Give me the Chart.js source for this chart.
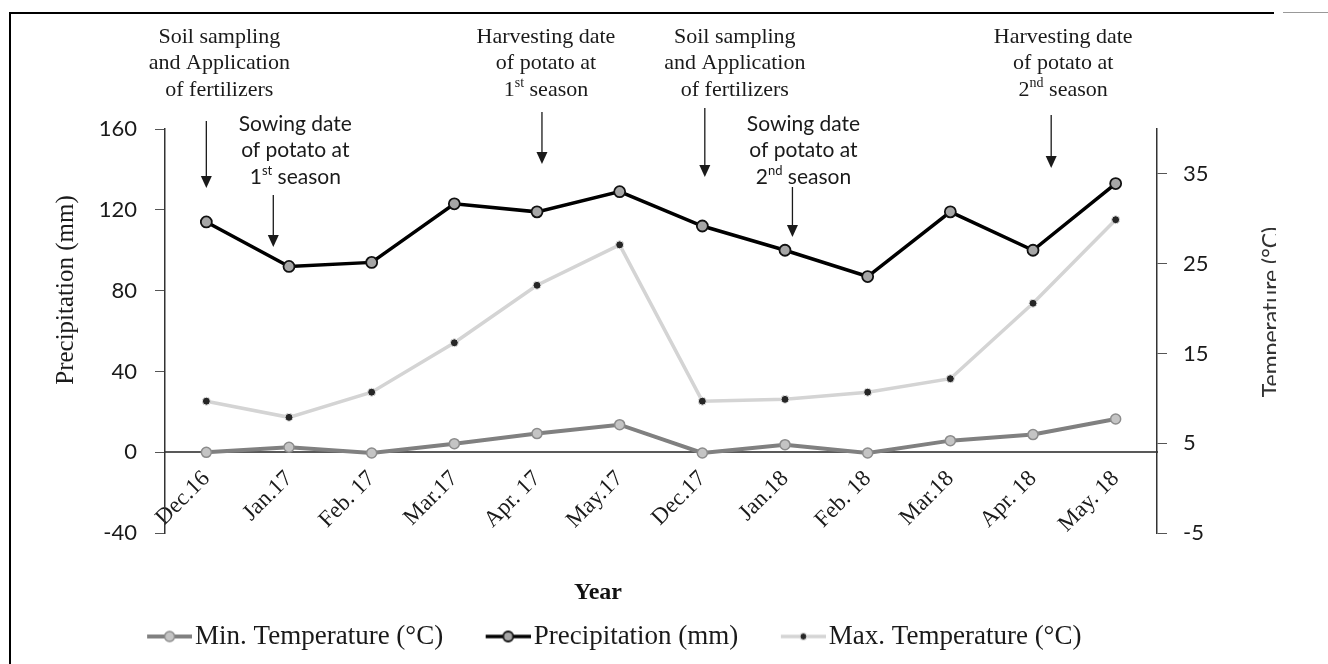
<!DOCTYPE html>
<html>
<head>
<meta charset="utf-8">
<script src="https://cdn.jsdelivr.net/npm/chart.js@4.4.0/dist/chart.umd.min.js"></script>
<style>
  body { margin: 0; background: #fff; }
  #wrap { position: relative; width: 1328px; height: 664px; overflow: hidden; }
  #chart { position: absolute; left: 0; top: 0; }
  #frame { position: absolute; left: 9px; top: 12px; width: 1263px; height: 660px; border-top: 2px solid #000; border-left: 2px solid #000; }
  #nub { position: absolute; left: 1283px; top: 12px; width: 45px; border-top: 1px solid #999; }
</style>
</head>
<body>
<div id="wrap">
  <canvas id="chart" width="1328" height="664"></canvas>
  <div id="frame"></div>
  <div id="nub"></div>
</div>
<script>
var months = ['Dec.16', 'Jan.17', 'Feb. 17', 'Mar.17', 'Apr. 17', 'May.17', 'Dec.17', 'Jan.18', 'Feb. 18', 'Mar.18', 'Apr. 18', 'May. 18'];
var minTemp = [0, 2.5, -0.3, 4.3, 9.3, 13.7, -0.3, 3.8, -0.3, 5.8, 8.8, 16.5];
var precipitation = [114, 92, 94, 123, 119, 129, 112, 100, 87, 119, 100, 133];
var maxTemp = [9.7, 7.9, 10.7, 16.2, 22.6, 27.1, 9.7, 9.9, 10.7, 12.2, 20.6, 29.9];
var leftTicks = [-40, 0, 40, 80, 120, 160];
var rightTicks = [-5, 5, 15, 25, 35];

var serif = "'Liberation Serif', 'Times New Roman', serif";
var sans = "Lato, 'Open Sans', sans-serif";

// text notes above the chart, arrow x given as a category position
var notes = [
  {at: 0.0, dx: 13, font: serif, size: 22, y: 37, from: 121, to: 188, lines: ['Soil sampling', 'and Application', 'of fertilizers']},
  {at: 0.81, dx: 22, font: sans, size: 21, y: 124, from: 195, to: 247, lines: ['Sowing date', 'of potato at', '1^st^ season']},
  {at: 4.06, dx: 4, font: serif, size: 22, y: 37, from: 112, to: 164, lines: ['Harvesting date', 'of potato at', '1^st^ season']},
  {at: 6.03, dx: 30, font: serif, size: 22, y: 37, from: 108, to: 177, lines: ['Soil sampling', 'and Application', 'of fertilizers']},
  {at: 7.09, dx: 11, font: sans, size: 21, y: 124, from: 187, to: 237, lines: ['Sowing date', 'of potato at', '2^nd^ season']},
  {at: 10.22, dx: 12, font: serif, size: 22, y: 37, from: 115, to: 168, lines: ['Harvesting date', 'of potato at', '2^nd^ season']}
];

function legendIcon(line, lw, fill, stroke, r, bw) {
  var c = document.createElement('canvas');
  c.width = 88; c.height = 16;
  var g = c.getContext('2d');
  g.strokeStyle = line; g.lineWidth = lw;
  g.beginPath(); g.moveTo(43, 8); g.lineTo(88, 8); g.stroke();
  g.beginPath(); g.arc(65.5, 8, r, 0, Math.PI * 2);
  g.fillStyle = fill; g.fill();
  g.lineWidth = bw; g.strokeStyle = stroke; g.stroke();
  return c;
}
var icons = [
  legendIcon('#808080', 4, '#c4c4c4', '#8c8c8c', 5, 1.5),
  legendIcon('#000000', 3.5, '#a6a6a6', '#111111', 5, 1.8),
  legendIcon('#d4d4d4', 3.5, '#262626', '#e8e8e8', 3.5, 1)
];

function drawLine(ctx, text, cx, y, font, size) {
  var parts = text.split('^');
  var w = 0;
  parts.forEach(function(p, i) {
    ctx.font = (i % 2 ? Math.round(size * 0.62) : size) + 'px ' + font;
    w += ctx.measureText(p).width;
  });
  var x = cx - w / 2;
  parts.forEach(function(p, i) {
    var sup = i % 2 === 1;
    ctx.font = (sup ? Math.round(size * 0.62) : size) + 'px ' + font;
    ctx.fillText(p, x, sup ? y - size * 0.3 : y);
    x += ctx.measureText(p).width;
  });
}

var overlay = {
  id: 'overlay',
  afterDraw: function(chart) {
    var ctx = chart.ctx, xs = chart.scales.x;
    ctx.save();
    ctx.fillStyle = '#1a1a1a';
    ctx.strokeStyle = '#1a1a1a';
    ctx.textAlign = 'left';
    ctx.textBaseline = 'middle';
    notes.forEach(function(n) {
      var ax = xs.getPixelForValue(n.at);
      n.lines.forEach(function(t, i) {
        drawLine(ctx, t, ax + n.dx, n.y + i * 26.5, n.font, n.size);
      });
      ctx.lineWidth = 1.3;
      ctx.beginPath(); ctx.moveTo(ax, n.from); ctx.lineTo(ax, n.to - 11); ctx.stroke();
      ctx.beginPath(); ctx.moveTo(ax - 5.5, n.to - 12); ctx.lineTo(ax + 5.5, n.to - 12); ctx.lineTo(ax, n.to); ctx.closePath(); ctx.fill();
    });

    // axis titles, both read bottom to top
    ctx.textAlign = 'center';
    ctx.save();
    ctx.translate(66, 290);
    ctx.rotate(-Math.PI / 2);
    ctx.font = '25px ' + serif;
    ctx.fillText('Precipitation (mm)', 0, 0);
    ctx.restore();

    ctx.save();
    ctx.beginPath(); ctx.rect(1240, 150, 36, 300); ctx.clip();
    ctx.translate(1260, 312);
    ctx.rotate(-Math.PI / 2);
    ctx.textBaseline = 'top';
    ctx.fillStyle = '#333';
    ctx.font = '23px ' + sans;
    ctx.fillText('Temperature (°C)', 0, 0);
    ctx.restore();
    ctx.restore();
  }
};

new Chart(document.getElementById('chart'), {
  type: 'line',
  data: {
    labels: months,
    datasets: [
      {label: 'Min. Temperature (°C)', data: minTemp, yAxisID: 'y', borderColor: '#808080', borderWidth: 4,
       pointRadius: 5, pointBackgroundColor: '#c4c4c4', pointBorderColor: '#8c8c8c', pointBorderWidth: 1.5},
      {label: 'Precipitation (mm)', data: precipitation, yAxisID: 'y', borderColor: '#000000', borderWidth: 3.5,
       pointRadius: 5.5, pointBackgroundColor: '#a6a6a6', pointBorderColor: '#111111', pointBorderWidth: 1.8},
      {label: 'Max. Temperature (°C)', data: maxTemp, yAxisID: 'y1', borderColor: '#d4d4d4', borderWidth: 3.5,
       pointRadius: 4, pointBackgroundColor: '#262626', pointBorderColor: '#e8e8e8', pointBorderWidth: 1}
    ]
  },
  options: {
    responsive: false,
    animation: false,
    events: [],
    layout: {padding: {left: -21, right: 111, top: 129, bottom: 4}},
    scales: {
      x: {
        type: 'category',
        position: {y: 0},
        offset: true,
        grid: {display: false, drawTicks: false},
        border: {display: true, color: '#595959', width: 2},
        ticks: {maxRotation: 45, minRotation: 45, padding: 13, color: '#1a1a1a', font: {family: serif, size: 23}}
      },
      y: {
        position: 'left',
        min: leftTicks[0],
        max: leftTicks[leftTicks.length - 1],
        afterBuildTicks: function(s) { s.ticks = leftTicks.map(function(v) { return {value: v}; }); },
        afterFit: function(s) { s.width = 186; },
        grid: {drawOnChartArea: false, tickLength: 10, color: '#555'},
        border: {display: true, color: '#333', width: 1.5},
        ticks: {padding: 18, color: '#1a1a1a', font: {family: sans, size: 22}}
      },
      y1: {
        position: 'right',
        min: -5,
        max: 40,
        afterBuildTicks: function(s) { s.ticks = rightTicks.map(function(v) { return {value: v}; }); },
        afterFit: function(s) { s.width = 60; },
        grid: {drawOnChartArea: false, tickLength: 10, color: '#555'},
        border: {display: true, color: '#333', width: 1.5},
        ticks: {padding: 16, color: '#1a1a1a', font: {family: sans, size: 22}}
      }
    },
    plugins: {
      tooltip: {enabled: false},
      title: {
        display: true, text: 'Year', position: 'bottom', weight: 500,
        padding: {top: 45, bottom: 6}, color: '#111',
        font: {family: serif, size: 24, weight: 'bold'}
      },
      legend: {
        position: 'bottom',
        labels: {
          usePointStyle: true, pointStyleWidth: 67, padding: 10, color: '#1a1a1a',
          font: {family: serif, size: 27},
          generateLabels: function(chart) {
            var items = Chart.defaults.plugins.legend.labels.generateLabels(chart);
            items.forEach(function(it, i) { it.pointStyle = icons[i]; });
            return items;
          }
        }
      }
    }
  },
  plugins: [overlay]
});
</script>
</body>
</html>
